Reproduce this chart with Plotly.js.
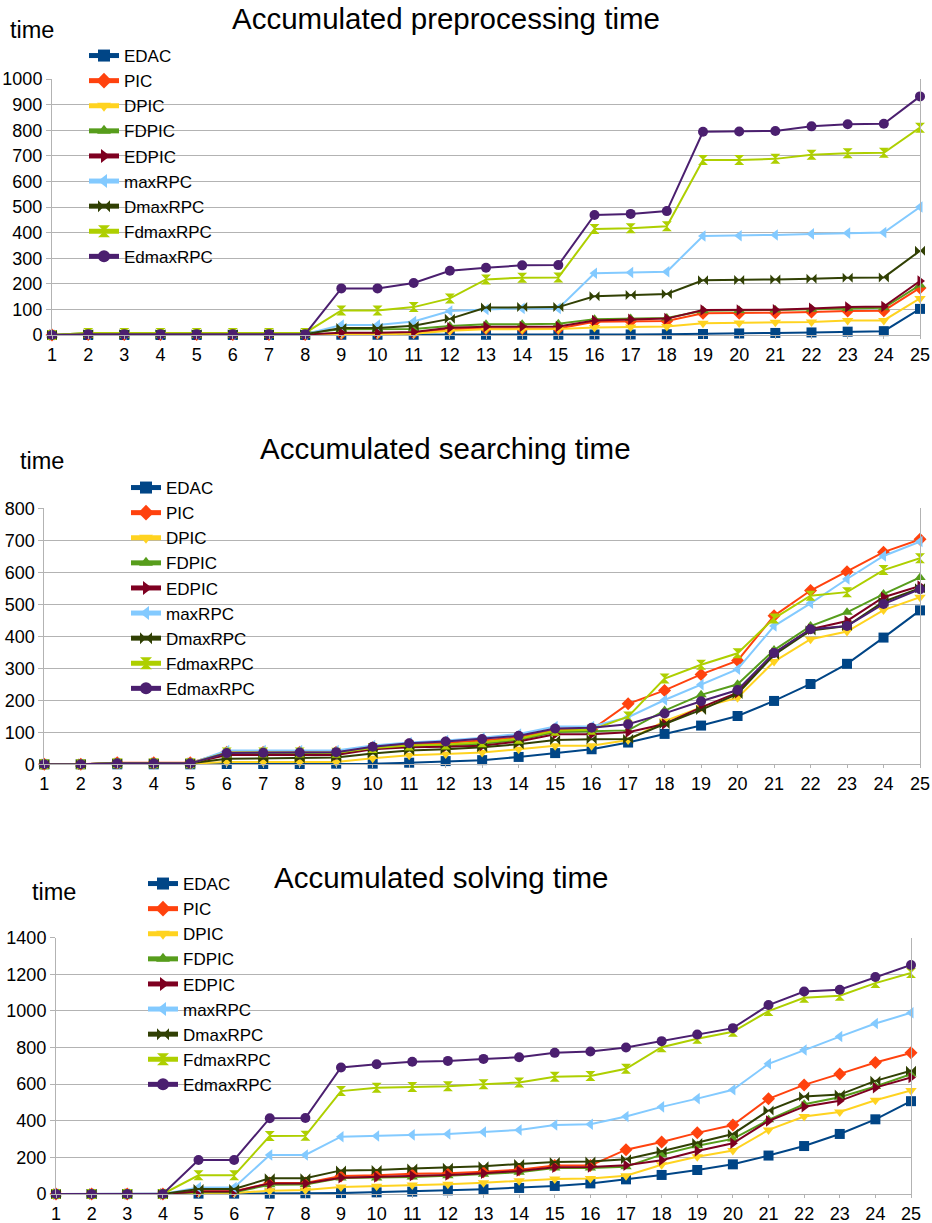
<!DOCTYPE html>
<html>
<head>
<meta charset="utf-8">
<script src="https://cdn.plot.ly/plotly-3.0.1.min.js"></script>
<style>
  html, body { margin: 0; padding: 0; background: #ffffff; }
  #chart { width: 932px; height: 1223px; }
</style>
</head>
<body>
<div id="chart"></div>
<script>
// Instance numbers on the x axis
const steps = [1,2,3,4,5,6,7,8,9,10,11,12,13,14,15,16,17,18,19,20,21,22,23,24,25];

// Algorithms, in legend order
const algorithms = ['EDAC','PIC','DPIC','FDPIC','EDPIC','maxRPC','DmaxRPC','FdmaxRPC','EdmaxRPC'];

// Accumulated preprocessing time
const preEDAC     = [0,0,0,0,0,0,0,0,1,1,1,1,1,1,1,2,2,3,4,6,8,10,13,15,102];
const prePIC      = [0,2,2,2,2,2,2,2,6,7,9,22,25,25,25,52,54,55,85,85,87,90,94,95,184];
const preDPIC     = [0,2,2,2,2,2,2,2,3,3,5,17,22,22,23,29,31,33,46,47,50,51,57,57,143];
const preFDPIC    = [0,8,8,8,8,8,8,8,22,22,23,35,42,42,44,62,64,66,95,96,98,101,104,106,195];
const preEDPIC    = [0,2,2,2,2,2,2,2,9,9,12,28,32,33,33,57,61,64,98,98,99,104,109,111,211];
const preMaxRPC   = [0,3,3,3,3,3,3,3,39,39,53,94,100,104,104,241,244,247,387,388,391,395,398,400,500];
const preDmaxRPC  = [0,3,3,3,3,3,3,3,27,27,36,63,107,109,109,151,156,160,214,215,217,220,224,225,329];
const preFdmaxRPC = [0,8,8,8,8,8,8,8,96,96,109,143,217,224,225,414,417,425,684,684,688,704,710,712,810];
const preEdmaxRPC = [0,3,3,3,3,3,3,3,182,182,203,251,263,272,273,469,473,484,794,795,797,815,823,825,932];

// Accumulated searching time
const srchEDAC     = [0,0,0,0,0,1,1,1,2,2,5,10,13,23,35,47,68,95,121,151,198,251,314,396,481];
const srchPIC      = [0,0,5,5,5,38,38,38,38,52,62,67,74,85,108,108,189,231,281,324,464,543,602,663,703];
const srchDPIC     = [0,0,2,2,2,7,7,7,7,19,28,32,37,47,58,58,76,135,178,208,321,391,415,482,522];
const srchFDPIC    = [0,0,3,3,3,34,34,34,33,49,56,59,64,76,101,103,106,168,217,250,357,432,475,532,584];
const srchEDPIC    = [0,0,3,3,3,29,29,29,29,47,53,55,58,71,94,94,100,126,178,224,347,422,448,522,557];
const srchMaxRPC   = [0,0,3,3,3,43,43,43,43,59,68,74,83,95,118,118,147,201,249,297,432,503,579,651,696];
const srchDmaxRPC  = [0,0,3,3,3,17,18,19,21,34,43,47,53,63,76,78,79,126,170,220,342,418,432,508,550];
const srchFdmaxRPC = [0,0,3,3,3,37,37,37,36,51,59,62,69,80,105,108,149,268,311,347,456,527,538,607,644];
const srchEdmaxRPC = [0,0,3,3,3,35,36,37,38,55,66,71,79,89,112,114,125,159,197,232,348,422,432,501,547];

// Accumulated solving time
const solvEDAC     = [0,0,0,0,2,2,2,4,5,9,13,20,26,33,44,58,80,104,131,162,210,262,328,408,507];
const solvPIC      = [0,0,0,0,15,15,60,60,98,102,111,113,122,133,155,155,242,284,334,377,520,596,656,718,771];
const solvDPIC     = [0,0,0,0,5,5,18,22,38,42,49,53,62,73,82,84,100,160,204,237,350,423,448,512,565];
const solvFDPIC    = [0,0,0,0,10,10,50,52,87,88,93,100,108,119,142,142,149,215,264,301,405,490,529,587,655];
const solvEDPIC    = [0,0,0,0,13,13,58,58,89,93,100,104,113,126,146,148,157,184,235,277,399,477,509,581,636];
const solvMaxRPC   = [0,0,0,0,36,36,213,213,313,317,323,328,339,350,377,381,423,476,521,569,711,787,860,931,990];
const solvDmaxRPC  = [0,0,0,0,27,27,86,86,129,131,139,144,151,164,175,177,190,233,279,328,456,532,543,618,673];
const solvFdmaxRPC = [0,0,0,0,102,102,317,318,562,580,585,589,600,609,640,644,684,802,848,886,999,1072,1083,1152,1207];
const solvEdmaxRPC = [0,0,0,0,186,186,414,415,691,709,722,727,738,747,771,778,800,835,871,906,1032,1106,1116,1185,1251];

const preSeries  = [preEDAC, prePIC, preDPIC, preFDPIC, preEDPIC, preMaxRPC, preDmaxRPC, preFdmaxRPC, preEdmaxRPC];
const srchSeries = [srchEDAC, srchPIC, srchDPIC, srchFDPIC, srchEDPIC, srchMaxRPC, srchDmaxRPC, srchFdmaxRPC, srchEdmaxRPC];
const solvSeries = [solvEDAC, solvPIC, solvDPIC, solvFDPIC, solvEDPIC, solvMaxRPC, solvDmaxRPC, solvFdmaxRPC, solvEdmaxRPC];

const chartTitles = ['Accumulated preprocessing time', 'Accumulated searching time', 'Accumulated solving time'];
const yMax   = [1000, 800, 1400];
const yStep  = [100, 100, 200];

// Styling
const colors  = ['#004586','#ff420e','#ffd320','#579d1c','#7e0021','#83caff','#314004','#aecf00','#4b1f6f'];
const symbols = ['square','diamond','triangle-down','triangle-up','triangle-right','triangle-left','bowtie','hourglass','circle'];
const FONT = '"Liberation Sans", Arial, sans-serif';
const GRID = '#b3b3b3';

const W = 932, H = 1223;
const fx = p => p / W;
const fy = p => 1 - p / H;

// Pixel boxes of each panel
const panels = [
  { left: 52,   right: 920, top: 79,    bottom: 335,   titleX: 446, titleY: 19,  timeX: 32, timeY: 30,  legX: 84,  legY: 38 },
  { left: 44.3, right: 920, top: 508.3, bottom: 764.3, titleX: 445, titleY: 448, timeX: 42, timeY: 461, legX: 126, legY: 470 },
  { left: 56,   right: 911, top: 937.7, bottom: 1194,  titleX: 441, titleY: 877, timeX: 54, timeY: 892, legX: 143, legY: 866 }
];
const allSeries = [preSeries, srchSeries, solvSeries];

const traces = [];
const layout = {
  width: W, height: H,
  margin: { l: 0, r: 0, t: 0, b: 0 },
  paper_bgcolor: '#ffffff',
  plot_bgcolor: '#ffffff',
  font: { family: FONT, color: '#000000', size: 18 },
  showlegend: true,
  annotations: []
};

panels.forEach((p, k) => {
  const sfx = k === 0 ? '' : String(k + 1);
  const legendId = 'legend' + sfx;
  allSeries[k].forEach((vals, i) => {
    traces.push({
      x: steps, y: vals, name: algorithms[i],
      type: 'scatter', mode: 'lines+markers',
      xaxis: 'x' + sfx, yaxis: 'y' + sfx,
      legend: legendId,
      cliponaxis: false,
      line: { color: colors[i], width: 2 },
      marker: { symbol: symbols[i], size: 10, color: colors[i] }
    });
  });

  layout['xaxis' + sfx] = {
    domain: [fx(p.left), fx(p.right)],
    anchor: 'y' + sfx,
    range: [1, 25], dtick: 1, tick0: 1,
    showgrid: false, zeroline: false,
    showline: true, linecolor: GRID, linewidth: 1,
    ticks: 'outside', ticklen: 3, tickcolor: GRID,
    tickfont: { size: 18, family: FONT, color: '#000000' }
  };
  layout['yaxis' + sfx] = {
    domain: [fy(p.bottom), fy(p.top)],
    anchor: 'x' + sfx,
    range: [0, yMax[k]], dtick: yStep[k], tick0: 0,
    showgrid: true, gridcolor: GRID, gridwidth: 1,
    zeroline: false,
    showline: true, mirror: true, linecolor: GRID, linewidth: 1,
    ticks: 'outside', ticklen: 5, tickcolor: GRID,
    tickfont: { size: 18, family: FONT, color: '#000000' }
  };
  layout[legendId] = {
    x: fx(p.legX), y: fy(p.legY), xref: 'paper', yref: 'paper',
    xanchor: 'left', yanchor: 'top',
    bgcolor: 'rgba(0,0,0,0)', borderwidth: 0,
    itemsizing: 'constant',
    font: { size: 17, family: FONT, color: '#000000' },
    traceorder: 'normal'
  };
  layout.annotations.push({
    text: chartTitles[k], xref: 'paper', yref: 'paper',
    x: fx(p.titleX), y: fy(p.titleY), xanchor: 'center', yanchor: 'middle',
    showarrow: false, font: { size: 29.5, family: FONT, color: '#000000' }
  });
  layout.annotations.push({
    text: 'time', xref: 'paper', yref: 'paper',
    x: fx(p.timeX), y: fy(p.timeY), xanchor: 'center', yanchor: 'middle',
    showarrow: false, font: { size: 23.5, family: FONT, color: '#000000' }
  });
});

Plotly.newPlot('chart', traces, layout, { displayModeBar: false, staticPlot: true });
</script>
</body>
</html>
